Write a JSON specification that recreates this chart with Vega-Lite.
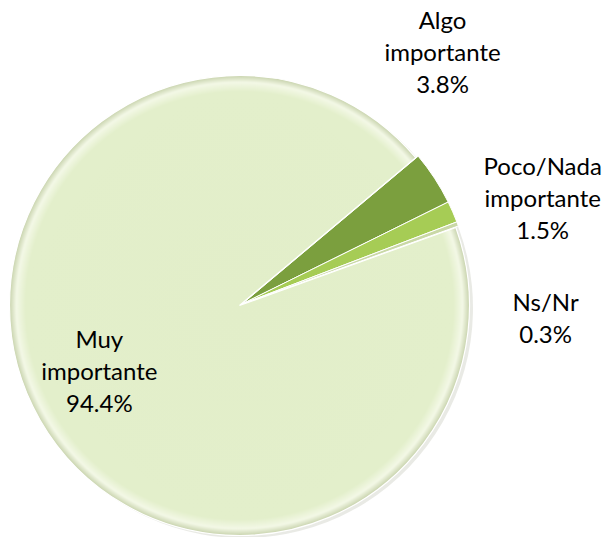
{
  "$schema": "https://vega.github.io/schema/vega-lite/v6.json",
  "width": 476,
  "height": 466,
  "autosize": {"type": "none"},
  "padding": {"left": 4, "top": 71, "right": 125, "bottom": 0},
  "background": "white",
  "view": {"stroke": null},
  "data": {
    "values": [
      {"categoria": "Algo importante", "pct": 3.8, "orden": 1, "etiqueta": "Algo\nimportante\n3.8%"},
      {"categoria": "Poco/Nada importante", "pct": 1.5, "orden": 2, "etiqueta": "Poco/Nada\nimportante\n1.5%"},
      {"categoria": "Ns/Nr", "pct": 0.3, "orden": 3, "etiqueta": "Ns/Nr\n0.3%"},
      {"categoria": "Muy importante", "pct": 94.4, "orden": 4, "etiqueta": "Muy\nimportante\n94.4%"}
    ]
  },
  "encoding": {
    "theta": {"field": "pct", "type": "quantitative", "stack": true, "scale": {"range": [0.8727, 7.1559]}},
    "order": {"field": "orden", "type": "quantitative"}
  },
  "layer": [
    {
      "mark": {"type": "arc", "outerRadius": 230, "xOffset": 1, "yOffset": 4, "fill": "#9aa08a", "opacity": 0.22}
    },
    {
      "mark": {"type": "arc", "outerRadius": 230, "stroke": "white", "strokeWidth": 1},
      "encoding": {
        "color": {
          "field": "categoria",
          "type": "nominal",
          "scale": {
            "domain": ["Algo importante", "Poco/Nada importante", "Ns/Nr", "Muy importante"],
            "range": ["#7b9f3e", "#a6cc55", "#c9d8a6", "#e3efcb"]
          },
          "legend": null
        },
        "opacity": {"condition": {"test": "datum.categoria === 'Muy importante'", "value": 0}, "value": 1}
      }
    },
    {
      "mark": {
        "type": "arc",
        "outerRadius": 230,
        "xOffset": -2.5,
        "yOffset": 1.5,
        "stroke": "white",
        "strokeWidth": 1.2,
        "fill": {
          "gradient": "radial",
          "x1": 0.5, "y1": 0.5, "r1": 0,
          "x2": 0.5, "y2": 0.5, "r2": 0.5,
          "stops": [
            {"offset": 0, "color": "#e2eec9"},
            {"offset": 0.93, "color": "#e3efcb"},
            {"offset": 0.97, "color": "#f3f8e6"},
            {"offset": 1, "color": "#c8d3ad"}
          ]
        }
      },
      "encoding": {
        "opacity": {"condition": {"test": "datum.categoria !== 'Muy importante'", "value": 0}, "value": 1}
      }
    },
    {
      "mark": {"type": "text", "radius": 230, "dx": 8, "dy": -156, "align": "center", "baseline": "middle", "lineBreak": "\n", "lineHeight": 32, "font": "Lato", "fontSize": 24, "color": "black"},
      "encoding": {
        "text": {"field": "etiqueta"},
        "opacity": {"condition": {"test": "datum.categoria === 'Algo importante'", "value": 1}, "value": 0}
      }
    },
    {
      "mark": {"type": "text", "radius": 230, "dx": 90, "dy": -44, "align": "center", "baseline": "middle", "lineBreak": "\n", "lineHeight": 32, "font": "Lato", "fontSize": 24, "color": "black"},
      "encoding": {
        "text": {"field": "etiqueta"},
        "opacity": {"condition": {"test": "datum.categoria === 'Poco/Nada importante'", "value": 1}, "value": 0}
      }
    },
    {
      "mark": {"type": "text", "radius": 230, "dx": 88, "dy": 80, "align": "center", "baseline": "middle", "lineBreak": "\n", "lineHeight": 32, "font": "Lato", "fontSize": 24, "color": "black"},
      "encoding": {
        "text": {"field": "etiqueta"},
        "opacity": {"condition": {"test": "datum.categoria === 'Ns/Nr'", "value": 1}, "value": 0}
      }
    },
    {
      "mark": {"type": "text", "radius": 130, "dx": -30, "dy": -28, "align": "center", "baseline": "middle", "lineBreak": "\n", "lineHeight": 32, "font": "Lato", "fontSize": 24, "color": "black"},
      "encoding": {
        "text": {"field": "etiqueta"},
        "opacity": {"condition": {"test": "datum.categoria === 'Muy importante'", "value": 1}, "value": 0}
      }
    }
  ]
}
